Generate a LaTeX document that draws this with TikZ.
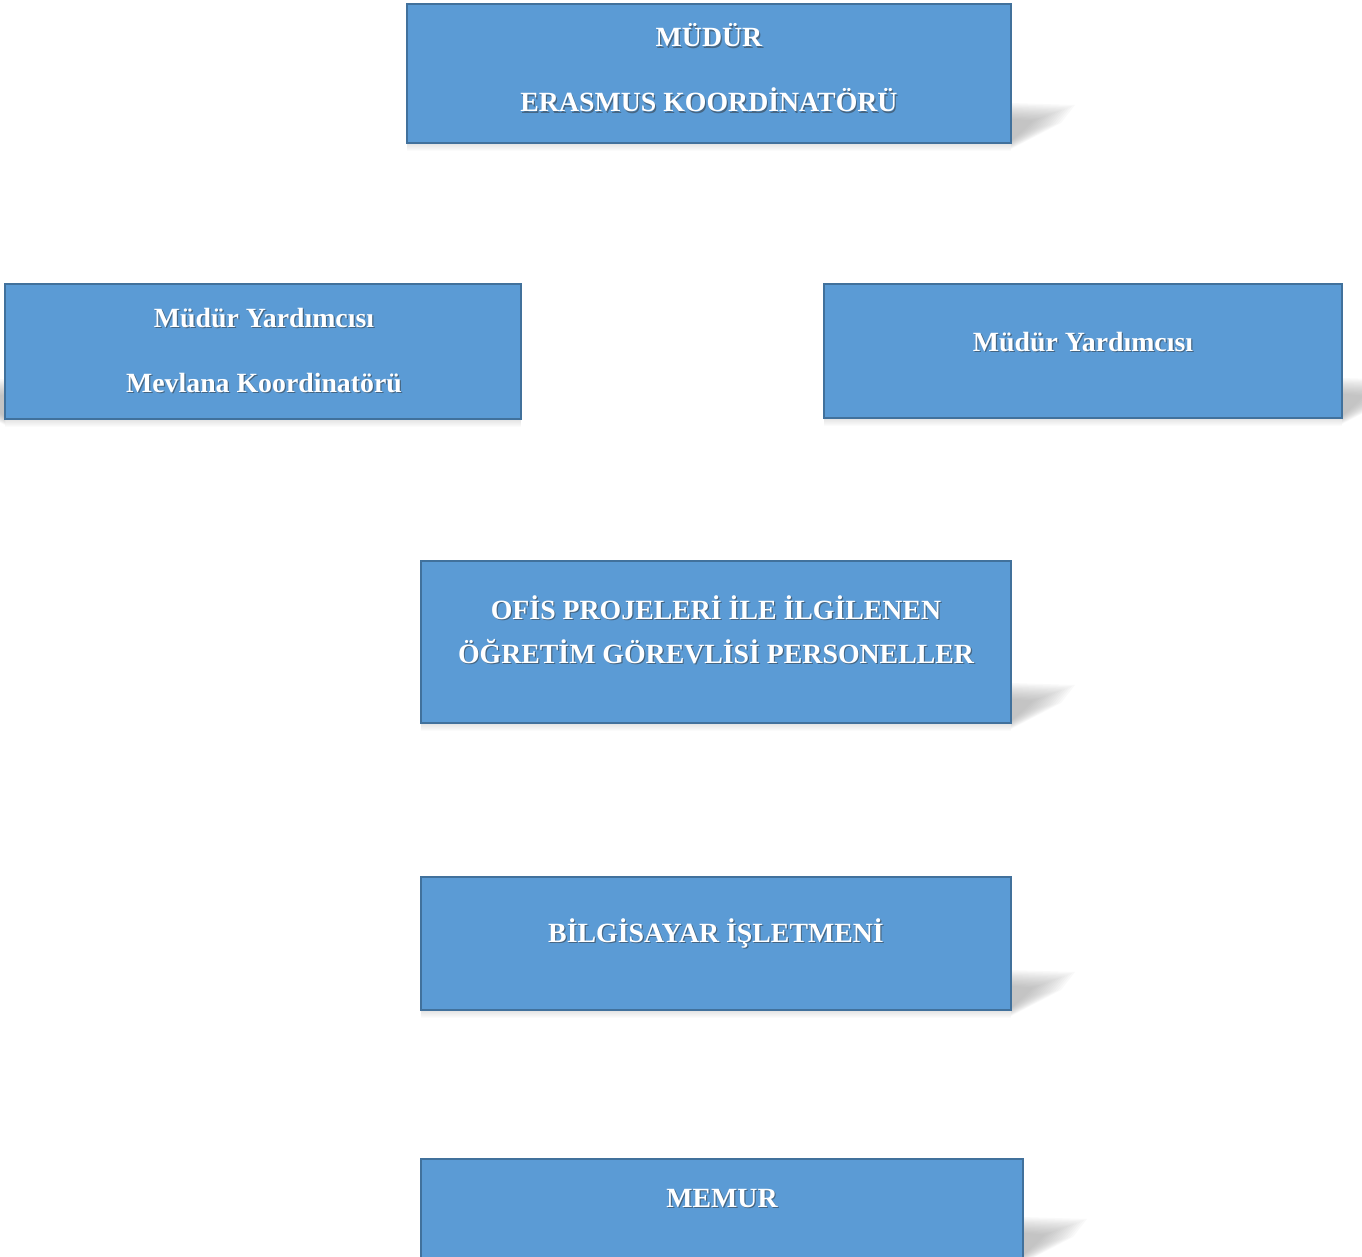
\documentclass[tikz,border=0pt]{standalone}
\usepackage{fontspec}
\setmainfont{Liberation Serif}
\usetikzlibrary{positioning}
\definecolor{boxfill}{HTML}{5B9BD5}
\definecolor{boxline}{HTML}{41719C}
\definecolor{shgray}{HTML}{7F7F7F}
\tikzset{
  orgbox/.style={draw=boxline, line width=2.2pt, fill=boxfill, rectangle, inner sep=0pt},
  txt/.style={text=white, font=\fontsize{27.8}{33}\selectfont\bfseries, inner sep=0pt, anchor=base},
  txtsh/.style={text=black!80, opacity=0.5, font=\fontsize{27.8}{33}\selectfont\bfseries, inner sep=0pt, anchor=base},
}
% text with shadow
\newcommand{\lbl}[4]{%
  \node[txtsh] (#1s) at ({#2+1.2},{#3+1.4}) {#4};
  \node[txt] (#1) at (#2,#3) {#4};}
% wedge shadow beside corner (R,B); #3 = +1 right, -1 left
\newcommand{\wedgesh}[3]{%
  \foreach \i in {0,...,13}{
    \fill[shgray, opacity=0.045]
      (#1, {#2-40+1.2*\i}) -- ({#1+#3*(64-3.2*\i)}, {#2-38+1.2*\i}) --
      ({#1+#3*(50-2.8*\i)}, {#2-20+0.5*\i}) -- (#1, {#2+6-0.6*\i}) -- cycle;
  }}
\newcommand{\bottomsh}[3]{%
  \foreach \i in {1,...,7}{
    \fill[shgray, opacity=0.03] (#1, #3) rectangle (#2, {#3+\i});
  }}
\begin{document}
\begin{tikzpicture}[x=1pt, y=-1pt]
\useasboundingbox (0,0) rectangle (1362,1257);
\clip (0,0) rectangle (1362,1257);
% shadows
\wedgesh{1011}{143}{1}
\bottomsh{407}{1011}{144}
\wedgesh{5}{419}{-1}
\bottomsh{5}{521}{420}
\wedgesh{1342}{418}{1}
\bottomsh{824}{1342}{419}
\wedgesh{1011}{723}{1}
\bottomsh{421}{1011}{724}
\wedgesh{1011}{1010}{1}
\bottomsh{421}{1011}{1011}
\wedgesh{1023}{1257}{1}
% boxes
\node[orgbox, minimum width=604pt, minimum height=139pt] (b1) at (709,73.5) {};
\node[orgbox, minimum width=516pt, minimum height=135pt] (b2) at (263,351.5) {};
\node[orgbox, minimum width=518pt, minimum height=134pt] (b3) at (1083,351) {};
\node[orgbox, minimum width=590pt, minimum height=162pt] (b4) at (716,642) {};
\node[orgbox, minimum width=590pt, minimum height=133pt] (b5) at (716,943.5) {};
\node[orgbox, minimum width=602pt, minimum height=142pt] (b6) at (722,1230) {};
% texts
\lbl{t1a}{709}{47}{MÜDÜR}
\lbl{t1b}{709}{112}{ERASMUS KOORDİNATÖRÜ}
\lbl{t2a}{264}{327}{Müdür Yardımcısı}
\lbl{t2b}{264}{392}{Mevlana Koordinatörü}
\lbl{t3a}{1083}{351}{Müdür Yardımcısı}
\lbl{t4a}{716}{619}{OFİS PROJELERİ İLE İLGİLENEN}
\lbl{t4b}{716}{663}{ÖĞRETİM GÖREVLİSİ PERSONELLER}
\lbl{t5a}{716}{942}{BİLGİSAYAR İŞLETMENİ}
\lbl{t6a}{722}{1207}{MEMUR}
\end{tikzpicture}
\end{document}
